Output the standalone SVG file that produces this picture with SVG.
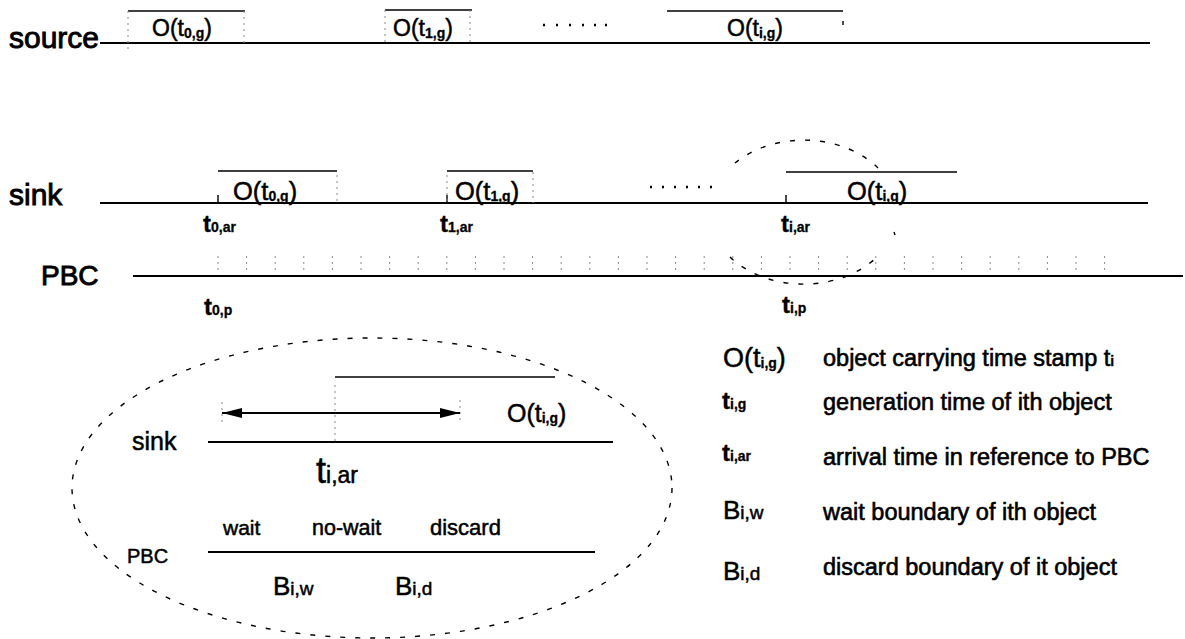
<svg xmlns="http://www.w3.org/2000/svg" width="1185" height="639" viewBox="0 0 1185 639">
  <defs>
    <style>
      text { font-family: "Liberation Sans", Arial, Helvetica, sans-serif; fill: #000; stroke: #000; stroke-width: 0.5; }
      .row { font-size: 28px; stroke-width: 0.9; }
      .row-lg { font-size: 30px; stroke-width: 0.9; }
      .obj { font-size: 25.5px; }
      .src { font-size: 23px; }
      .sub { font-size: 14px; font-weight: bold; stroke-width: 0.3; }
      .tlab { font-size: 24px; font-weight: bold; stroke-width: 0.3; }
      .leg { font-size: 23.5px; stroke-width: 0.6; }
      .line { stroke: #000; stroke-width: 1.8; fill: none; }
      .thin { stroke: #000; stroke-width: 1.4; fill: none; }
      .faint { stroke: #8a8a8a; stroke-width: 1; stroke-dasharray: 2 4; fill: none; }
      .mag { stroke: #000; stroke-width: 1.4; stroke-dasharray: 5 10; fill: none; }
    </style>
    <marker id="head" viewBox="0 0 20 10" refX="20" refY="5" markerWidth="20" markerHeight="10" markerUnits="userSpaceOnUse" orient="auto-start-reverse">
      <path d="M0,0 L20,5 L0,10 z" fill="#000"/>
    </marker>
  </defs>
  <rect width="1185" height="639" fill="#fff"/>

  <!-- source timeline -->
  <g id="source-row">
    <text class="row-lg" x="9" y="48">source</text>
    <path class="line" d="M100 43 H1150"/>
    <g id="src-obj-0">
      <path class="thin" d="M128 11 H245"/>
      <path class="faint" d="M128 11 V52 M244 11 V43"/>
      <text class="src" x="152" y="36">O(t<tspan class="sub" dy="2">0,g</tspan><tspan dy="-2">)</tspan></text>
    </g>
    <g id="src-obj-1">
      <path class="thin" d="M385 10 H472"/>
      <path class="faint" d="M385 10 V43 M470 10 V43"/>
      <text class="src" x="393" y="36">O(t<tspan class="sub" dy="2">1,g</tspan><tspan dy="-2">)</tspan></text>
    </g>
    <path d="M543 25 h2 M556 25 h2 M569 25 h2 M582 25 h2 M594 25 h2 M605 25 h2" stroke="#000" stroke-width="2.5"/>
    <g id="src-obj-i">
      <path class="thin" d="M667 11 H843"/>
      <path class="thin" d="M843 21 V25"/>
      <text class="src" x="727" y="36">O(t<tspan class="sub" dy="2">i,g</tspan><tspan dy="-2">)</tspan></text>
    </g>
  </g>

  <!-- sink timeline -->
  <g id="sink-row">
    <text class="row-lg" x="9" y="205">sink</text>
    <path class="line" d="M100 203 H1148"/>
    <g id="sink-obj-0">
      <path class="thin" d="M218 171 H337 M218 195 V203"/>
      <path class="faint" d="M337 175 V203"/>
      <text class="obj" x="233" y="200">O(t<tspan class="sub" dy="1">0,g</tspan><tspan dy="-1">)</tspan></text>
      <text class="tlab" x="203" y="232">t<tspan class="sub">0,ar</tspan></text>
    </g>
    <g id="sink-obj-1">
      <path class="thin" d="M447 171 H533 M447 195 V203"/>
      <path class="faint" d="M447 175 V203 M533 172 V203"/>
      <text class="obj" x="455" y="200">O(t<tspan class="sub" dy="1">1,g</tspan><tspan dy="-1">)</tspan></text>
      <text class="tlab" x="440" y="232">t<tspan class="sub">1,ar</tspan></text>
    </g>
    <path d="M650 187 h2 M662 187 h2 M674 187 h2 M686 187 h2 M698 187 h2 M710 187 h2" stroke="#000" stroke-width="2.5"/>
    <g id="sink-obj-i">
      <path class="thin" d="M786 172 H957 M786 195 V203"/>
      <text class="obj" x="847" y="200">O(t<tspan class="sub" dy="1">i,g</tspan><tspan dy="-1">)</tspan></text>
      <text class="tlab" x="781" y="232">t<tspan class="sub">i,ar</tspan></text>
    </g>
  </g>

  <!-- presentation base clock -->
  <g id="pbc-row">
    <text class="row" x="41" y="285">PBC</text>
    <path class="line" d="M133 276 H1183"/>
    <path class="faint" d="M218 256 V274 M246.6 256 V274 M275.2 256 V274 M303.8 256 V274 M332.4 256 V274 M361 256 V274 M389.6 256 V274 M418.2 256 V274 M446.8 256 V274 M475.4 256 V274 M504 256 V274 M532.6 256 V274 M561.2 256 V274 M589.8 256 V274 M618.4 256 V274 M647 256 V274 M675.6 256 V274 M704.2 256 V274 M732.8 256 V274 M761.4 256 V274 M790 256 V274 M818.6 256 V274 M847.2 256 V274 M875.8 256 V274 M904.4 256 V274 M933 256 V274 M961.6 256 V274 M990.2 256 V274 M1018.8 256 V274 M1047.4 256 V274 M1076 256 V274 M1104.6 256 V274"/>
    <text class="tlab" x="204" y="315">t<tspan class="sub">0,p</tspan></text>
    <text class="tlab" x="782" y="313">t<tspan class="sub">i,p</tspan></text>
  </g>

  <!-- magnified view of object i -->
  <g id="detail-view">
    <g id="detail-sink">
      <text x="132" y="450" font-size="25">sink</text>
      <path class="line" d="M208 442 H613"/>
      <path class="thin" d="M335 377 H555"/>
      <path class="faint" d="M335 385 V442 M460 400 V422 M222 402 V422"/>
      <text x="507" y="422" font-size="25">O(t<tspan class="sub" dy="1">i,g</tspan><tspan dy="-1">)</tspan></text>
      <text x="316" y="483" font-size="36">t<tspan font-size="23">i,ar</tspan></text>
    </g>
    <g id="detail-pbc">
      <text x="127" y="563" font-size="20">PBC</text>
      <path class="line" d="M208 552 H595"/>
      <text x="223" y="535" font-size="21">wait</text>
      <text x="312" y="535" font-size="21.5">no-wait</text>
      <text x="430" y="535" font-size="22">discard</text>
      <text x="273" y="595" font-size="26">B<tspan font-size="19">i,w</tspan></text>
      <text x="395" y="595" font-size="26">B<tspan font-size="19">i,d</tspan></text>
    </g>
  </g>

  <!-- connectors: wait/discard span and magnifier outlines -->
  <g id="connectors">
    <path class="line" d="M222 413 H460" marker-start="url(#head)" marker-end="url(#head)"/>
    <path class="mag" d="M735 163 A94 72 0 0 1 878 168"/>
    <path class="mag" d="M730 257 A94 72 0 0 0 877 257"/>
    <path d="M894 232 l1 3" stroke="#000" stroke-width="1.4"/>
    <ellipse class="mag" cx="372" cy="488" rx="300" ry="150"/>
  </g>

  <!-- legend -->
  <g id="legend">
    <text x="723" y="367" font-size="27">O(t<tspan class="sub" dy="1">i,g</tspan><tspan dy="-1">)</tspan></text>
    <text class="leg" x="823" y="366">object carrying time stamp t<tspan class="sub">i</tspan></text>
    <text class="tlab" x="722" y="409">t<tspan class="sub">i,g</tspan></text>
    <text class="leg" x="823" y="410">generation time of ith object</text>
    <text class="tlab" x="722" y="461">t<tspan class="sub">i,ar</tspan></text>
    <text class="leg" x="823" y="465">arrival time in reference to PBC</text>
    <text x="723" y="519" font-size="26">B<tspan font-size="19">i,w</tspan></text>
    <text class="leg" x="823" y="520">wait boundary of ith object</text>
    <text x="723" y="580" font-size="26">B<tspan font-size="19">i,d</tspan></text>
    <text class="leg" x="823" y="575">discard boundary of it object</text>
  </g>
</svg>
